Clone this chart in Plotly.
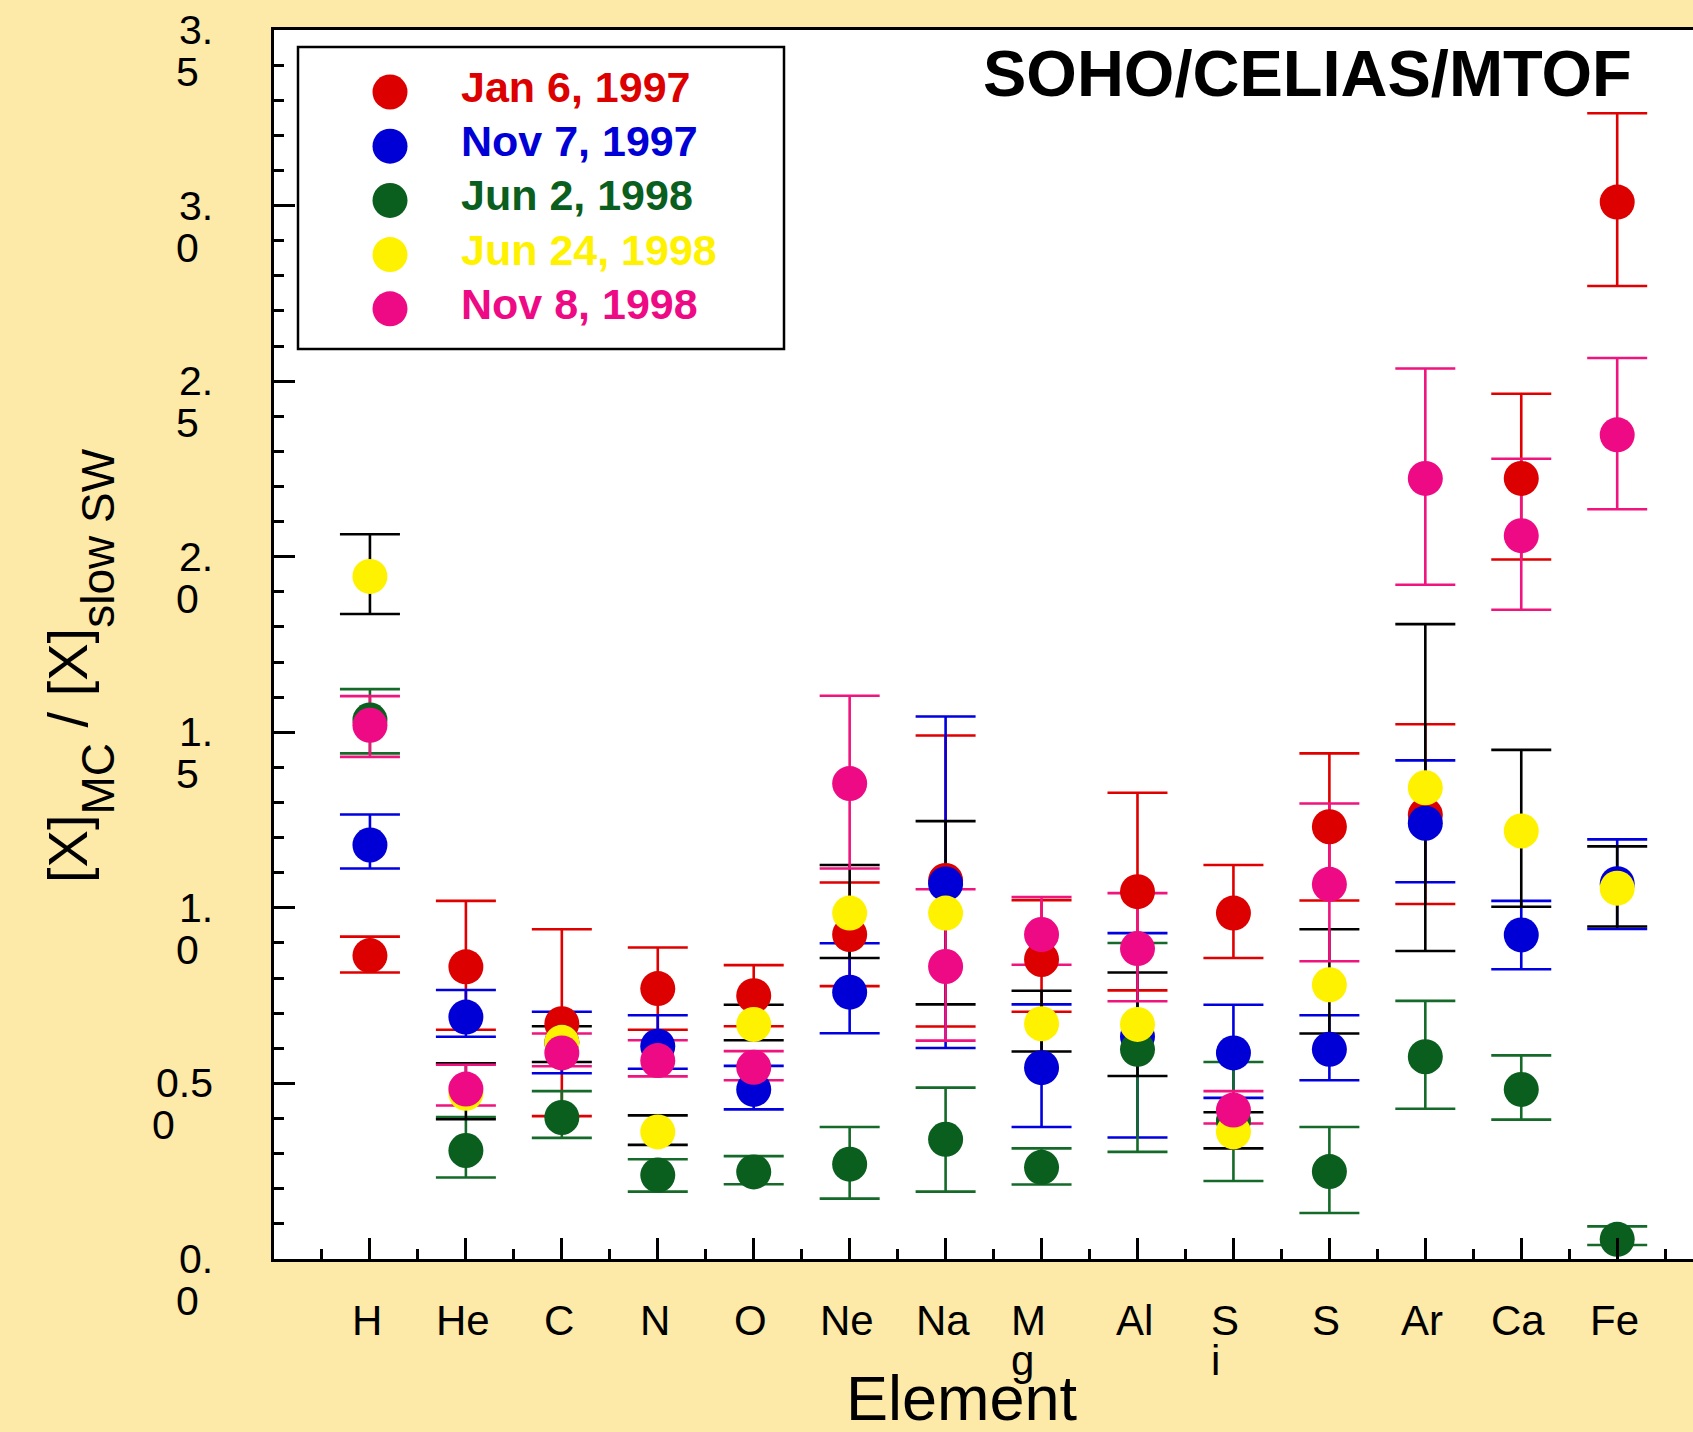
import plotly.graph_objects as go

# ---------------- data ----------------
elements = ["H", "He", "C", "N", "O", "Ne", "Na", "Mg", "Al", "Si", "S", "Ar", "Ca", "Fe"]
xtick_line1 = ["H", "He", "C", "N", "O", "Ne", "Na", "M", "Al", "S", "S", "Ar", "Ca", "Fe"]
xtick_line2 = ["", "", "", "", "", "", "", "g", "", "i", "", "", "", ""]

ytick_vals = [0.0, 0.5, 1.0, 1.5, 2.0, 2.5, 3.0, 3.5]
ytick_line1 = ["0.", "0.5", "1.", "1.", "2.", "2.", "3.", "3."]
ytick_line2 = ["0", "0", "0", "5", "0", "5", "0", "5"]

series_names = ["Jan 6, 1997", "Nov 7, 1997", "Jun 2, 1998", "Jun 24, 1998", "Nov 8, 1998"]

jan97_val = [0.864, 0.832, 0.670, 0.770, 0.750, 0.924, 1.078, 0.853, 1.046, 0.985, 1.231, 1.265, 2.223, 3.010]
jan97_hi = [0.918, 1.020, 0.939, 0.887, 0.837, 1.072, 1.491, 1.022, 1.328, 1.122, 1.440, 1.523, 2.464, 3.263]
jan97_lo = [0.816, 0.653, 0.407, 0.653, 0.663, 0.777, 0.662, 0.704, 0.765, 0.857, 1.021, 1.011, 1.992, 2.771]

nov97_val = [1.179, 0.689, 0.617, 0.606, 0.483, 0.760, 1.068, 0.545, 0.634, 0.587, 0.597, 1.241, 0.923, 1.069]
nov97_hi = [1.266, 0.766, 0.704, 0.694, 0.550, 0.899, 1.545, 0.725, 0.928, 0.724, 0.694, 1.420, 1.020, 1.195]
nov97_lo = [1.112, 0.633, 0.529, 0.542, 0.426, 0.643, 0.601, 0.376, 0.346, 0.459, 0.509, 1.073, 0.825, 0.940]

jun98_val = [1.535, 0.309, 0.403, 0.239, 0.248, 0.270, 0.341, 0.261, 0.597, 0.393, 0.249, 0.576, 0.483, 0.056]
jun98_hi = [1.623, 0.404, 0.478, 0.284, 0.293, 0.376, 0.488, 0.315, 0.900, 0.561, 0.376, 0.735, 0.580, 0.093]
jun98_lo = [1.440, 0.232, 0.345, 0.192, 0.213, 0.172, 0.192, 0.212, 0.305, 0.222, 0.131, 0.428, 0.397, 0.040]

jun24_val = [1.944, 0.472, 0.617, 0.362, 0.668, 0.985, 0.985, 0.670, 0.668, 0.362, 0.781, 1.342, 1.219, 1.056]
jun24_hi = [2.064, 0.557, 0.663, 0.409, 0.724, 1.122, 1.247, 0.764, 0.816, 0.418, 0.939, 1.808, 1.450, 1.175]
jun24_lo = [1.837, 0.398, 0.561, 0.325, 0.623, 0.857, 0.725, 0.591, 0.521, 0.315, 0.642, 0.877, 1.003, 0.947]

nov98_val = [1.520, 0.484, 0.587, 0.565, 0.546, 1.354, 0.833, 0.924, 0.884, 0.424, 1.067, 2.223, 2.060, 2.347]
nov98_hi = [1.603, 0.553, 0.642, 0.623, 0.592, 1.604, 1.053, 1.031, 1.042, 0.478, 1.297, 2.536, 2.279, 2.566]
nov98_lo = [1.430, 0.437, 0.549, 0.520, 0.509, 1.112, 0.622, 0.838, 0.734, 0.386, 0.848, 1.920, 1.849, 2.135]

# ---------------- style ----------------
marker_colors = ["#DC0000", "#0000D6", "#0A5E1E", "#FFF200", "#EE0A84"]
errbar_colors = ["#E00000", "#0000E0", "#156A29", "#000000", "#F0147F"]
legend_text_colors = ["#DC0000", "#0000D6", "#0A5E1E", "#FFF200", "#EE0A84"]
BG = "#FDE9A8"
FONT = "Liberation Sans, Arial, sans-serif"

W, H = 1693, 1432
ML, MR, MT, MB = 274, 0, 30, 173
PW = W - ML - MR
PH = H - MT - MB


def px_to_paper_x(px):
    return (px - ML) / PW


def px_to_paper_y(py):
    return (H - MB - py) / PH


x_idx = list(range(1, len(elements) + 1))
series = [
    (jan97_val, jan97_hi, jan97_lo),
    (nov97_val, nov97_hi, nov97_lo),
    (jun98_val, jun98_hi, jun98_lo),
    (jun24_val, jun24_hi, jun24_lo),
    (nov98_val, nov98_hi, nov98_lo),
]

fig = go.Figure()

# error bars first (all beneath every marker)
for i, (vals, hi, lo) in enumerate(series):
    plus = [h - v for h, v in zip(hi, vals)]
    minus = [v - l for v, l in zip(vals, lo)]
    fig.add_trace(go.Scatter(
        x=x_idx, y=vals, mode="markers",
        marker=dict(size=35, color="rgba(0,0,0,0)"),
        error_y=dict(type="data", symmetric=False, array=plus, arrayminus=minus,
                     color=errbar_colors[i], thickness=2.6, width=30),
        showlegend=False, hoverinfo="skip", name=series_names[i] + " err",
    ))

for i, (vals, hi, lo) in enumerate(series):
    fig.add_trace(go.Scatter(
        x=x_idx, y=vals, mode="markers",
        marker=dict(size=35, color=marker_colors[i], line=dict(width=0)),
        showlegend=False, name=series_names[i],
    ))

annotations = []
shapes = []

# y tick labels (two-line, left aligned block, right edge near axis)
for v, l1, l2 in zip(ytick_vals, ytick_line1, ytick_line2):
    annotations.append(dict(x=0, xref="paper", y=v, yref="y", text=l1, showarrow=False,
                            xanchor="right", yanchor="middle", xshift=-59,
                            font=dict(family=FONT, size=41, color="black")))
    annotations.append(dict(x=0, xref="paper", y=v, yref="y", text=l2, showarrow=False,
                            xanchor="left", yanchor="middle",
                            xshift=(-100 if len(l1) == 2 else -124), yshift=-42,
                            font=dict(family=FONT, size=41, color="black")))

# x tick labels
wrap_shift = {"Mg": -33, "Si": -24}
for xi, l1, l2 in zip(x_idx, xtick_line1, xtick_line2):
    f = dict(family=FONT, size=42, color="black")
    if l2 == "":
        annotations.append(dict(x=xi, xref="x", y=0, yref="paper", text=l1, showarrow=False,
                                xanchor="center", yanchor="middle", xshift=-3, yshift=-61, font=f))
    else:
        s = wrap_shift[l1 + l2]
        annotations.append(dict(x=xi, xref="x", y=0, yref="paper", text=l1, showarrow=False,
                                xanchor="left", yanchor="middle", xshift=s, yshift=-61, font=f))
        annotations.append(dict(x=xi, xref="x", y=0, yref="paper", text=l2, showarrow=False,
                                xanchor="left", yanchor="middle", xshift=s, yshift=-101, font=f))

# axis titles
annotations.append(dict(x=px_to_paper_x(962), xref="paper", y=px_to_paper_y(1398), yref="paper",
                        text="Element", showarrow=False, xanchor="center", yanchor="middle",
                        font=dict(family=FONT, size=63, color="black")))
sub = '<span style="font-size:46px;baseline-shift:-27px">{}</span>'
ytitle = "[X]" + sub.format("MC") + " / [X]" + sub.format("slow SW")
annotations.append(dict(x=px_to_paper_x(80), xref="paper", y=px_to_paper_y(666), yref="paper",
                        text=ytitle, showarrow=False, textangle=-90,
                        xanchor="center", yanchor="middle",
                        font=dict(family=FONT, size=56, color="black")))

# instrument label
annotations.append(dict(x=px_to_paper_x(1307), xref="paper", y=px_to_paper_y(73.5), yref="paper",
                        text="<b>SOHO/CELIAS/MTOF</b>", showarrow=False,
                        xanchor="center", yanchor="middle",
                        font=dict(family=FONT, size=65, color="black")))

# custom legend
shapes.append(dict(type="rect", xref="paper", yref="paper",
                   x0=px_to_paper_x(298), x1=px_to_paper_x(784),
                   y0=px_to_paper_y(349), y1=px_to_paper_y(47),
                   line=dict(color="black", width=2.5), fillcolor="white", layer="above"))
for i, nm in enumerate(series_names):
    cy = 92 + 54.2 * i
    shapes.append(dict(type="circle", xref="paper", yref="paper",
                       xsizemode="pixel", ysizemode="pixel",
                       xanchor=px_to_paper_x(390), yanchor=px_to_paper_y(cy),
                       x0=-17.5, x1=17.5, y0=-17.5, y1=17.5,
                       fillcolor=marker_colors[i], line=dict(width=0), layer="above"))
    annotations.append(dict(x=px_to_paper_x(459), xref="paper", y=px_to_paper_y(cy), yref="paper",
                            yshift=5, text="<b>" + nm + "</b>", showarrow=False,
                            xanchor="left", yanchor="middle",
                            font=dict(family=FONT, size=43, color=legend_text_colors[i])))

fig.update_layout(
    width=W, height=H,
    margin=dict(l=ML, r=MR, t=MT, b=MB, pad=0),
    paper_bgcolor=BG, plot_bgcolor="white",
    showlegend=False,
    annotations=annotations, shapes=shapes,
    xaxis=dict(range=[0, 14.79], tickmode="linear", tick0=0, dtick=1,
               ticks="inside", ticklen=21, tickwidth=2.5, tickcolor="black",
               minor=dict(dtick=0.5, ticks="inside", ticklen=10, tickwidth=2.5, tickcolor="black"),
               showticklabels=False, showgrid=False, zeroline=False,
               showline=True, linewidth=3, linecolor="black", mirror=True),
    yaxis=dict(range=[0, 3.5], tickmode="linear", tick0=0, dtick=0.5,
               ticks="inside", ticklen=21, tickwidth=2.5, tickcolor="black",
               minor=dict(dtick=0.1, ticks="inside", ticklen=10, tickwidth=2.5, tickcolor="black"),
               showticklabels=False, showgrid=False, zeroline=False,
               showline=True, linewidth=3, linecolor="black", mirror=False),
)

fig.write_html("out.html")
